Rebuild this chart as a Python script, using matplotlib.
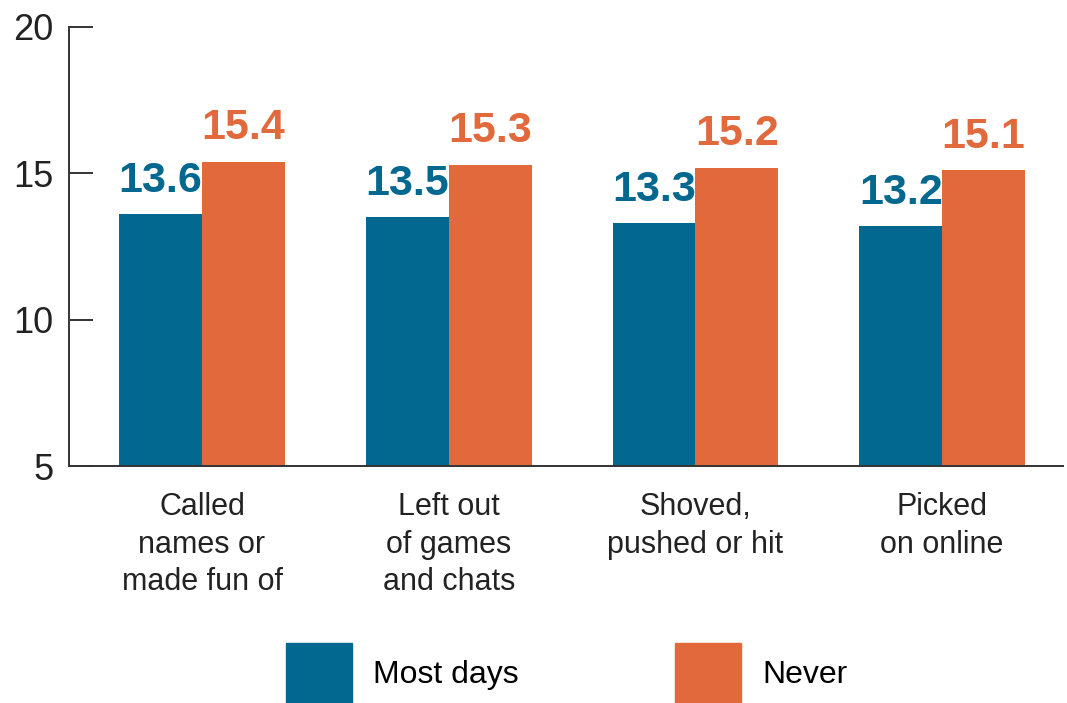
import numpy as np
import matplotlib
matplotlib.use("Agg")
from matplotlib import pyplot as plt
from matplotlib.patches import Patch

categories = ["Called\nnames or\nmade fun of", "Left out\nof games\nand chats",
              "Shoved,\npushed or hit", "Picked\non online"]
most_days = [13.6, 13.5, 13.3, 13.2]
never = [15.4, 15.3, 15.2, 15.1]
series_names = ["Most days", "Never"]
y_ticks = [5, 10, 15, 20]

blue = "#02688F"
orange = "#E1693C"

plt.rcParams['font.family'] = ['Liberation Sans', 'DejaVu Sans']

fig = plt.figure(figsize=(10.67, 7.03), dpi=100)
ax = fig.add_axes([0.0647, 0.337, 0.9316, 0.6246])

x = np.arange(len(categories))
w = 0.336
b1 = ax.bar(x - w / 2, np.array(most_days) - 5, w, bottom=5, color=blue)
b2 = ax.bar(x + w / 2, np.array(never) - 5, w, bottom=5, color=orange)

# value labels above the bars
for bars, vals, col in [(b1, most_days, blue), (b2, never, orange)]:
    for rect, v in zip(bars, vals):
        ax.annotate(f"{v:.1f}", (rect.get_x() + rect.get_width() / 2, v),
                    xytext=(0, 16), textcoords="offset points",
                    ha="center", va="baseline", fontsize=31, fontweight="bold",
                    color=col)

ax.set_ylim(5, 20)
ax.set_xlim(-0.539, 3.49)
ax.set_yticks(y_ticks)
ax.set_xticks(x)
ax.set_xticklabels(categories, fontsize=22, color="#222222", linespacing=1.32)
ax.tick_params(axis="x", length=0, pad=19)
ax.tick_params(axis="y", direction="in", length=17, width=1.4, color="#333333",
               labelsize=26, labelcolor="#222222", pad=11)

for s in ["top", "right"]:
    ax.spines[s].set_visible(False)
for s in ["left", "bottom"]:
    ax.spines[s].set_color("#333333")
    ax.spines[s].set_linewidth(1.4)

handles = [Patch(color=blue), Patch(color=orange)]
fig.legend(handles, series_names, loc="lower center", bbox_to_anchor=(0.531, 0.0),
           ncol=2, frameon=False, fontsize=23, handlelength=2.07, handleheight=2.52,
           handletextpad=0.66, columnspacing=4.9, borderpad=0, borderaxespad=0)

fig.savefig("out.png", dpi=100)
